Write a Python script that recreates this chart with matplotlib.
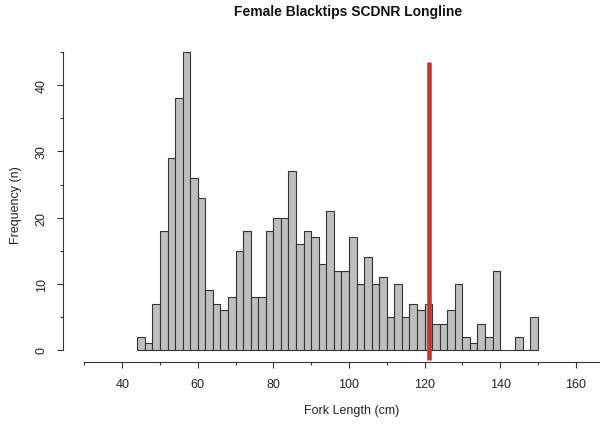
import numpy as np
import matplotlib
matplotlib.use("Agg")
import matplotlib.pyplot as plt

plt.rcParams['font.family'] = ['Liberation Sans', 'DejaVu Sans']

# histogram counts, 2 cm bins starting at 44 cm
bin_start = 44
bin_width = 2
counts = [2, 1, 7, 18, 29, 38, 45, 26, 23, 9,
          7, 6, 8, 15, 18, 8, 8, 18, 20, 20,
          27, 16, 18, 17, 13, 21, 12, 12, 17, 10,
          14, 10, 11, 5, 10, 5, 7, 6, 7, 4,
          4, 6, 10, 2, 1, 4, 2, 12, 0, 0,
          2, 0, 5]
marker_length = 121.3
x_major = [40, 60, 80, 100, 120, 140, 160]
x_minor = [30, 50, 70, 90, 110, 130, 150, 170]
y_major = [0, 10, 20, 30, 40]
y_minor = [5, 15, 25, 35, 45]

edges = bin_start + bin_width * np.arange(len(counts))

fig = plt.figure(figsize=(6, 4.27), dpi=100)
W, H = 600, 427
left, right, bottom, top = 63.3, 634.6, 363.3, 41.2
ax = fig.add_axes([left / W, 1 - bottom / H, (right - left) / W, (bottom - top) / H])
ax.set_clip_on(False)

ax.bar(edges, counts, width=bin_width, align='edge', color='#bebebe',
       edgecolor='#333333', linewidth=0.8)

# vertical marker line
ax.plot([marker_length, marker_length], [-1.5, 43.5], color='#c0392b',
        linewidth=3.3, solid_capstyle='butt')

ax.set_xlim(24.4, 175.6)
ax.set_ylim(-1.86, 46.8)

for s in ['top', 'right']:
    ax.spines[s].set_visible(False)
ax.spines['left'].set_bounds(0, 45)
ax.spines['bottom'].set_bounds(30, 170)
for s in ['left', 'bottom']:
    ax.spines[s].set_color('#333333')
    ax.spines[s].set_linewidth(0.8)

ax.set_xticks(x_major)
ax.set_xticks(x_minor, minor=True)
ax.set_yticks(y_major)
ax.set_yticks(y_minor, minor=True)
ax.set_yticklabels([str(v) for v in y_major], rotation=90, va='center')
ax.tick_params(which='major', direction='out', length=4.3, width=0.8,
               color='#333333', labelsize=9, labelcolor='#222222', pad=7)
ax.tick_params(which='minor', direction='out', length=2.5, width=0.8,
               color='#333333')

fig.text(348 / W, 1 - 12 / H, "Female Blacktips SCDNR Longline",
         ha='center', va='center', fontsize=10, fontweight='bold', color='#111111')
fig.text(352 / W, 1 - 411.5 / H, "Fork Length (cm)", ha='center', va='center',
         fontsize=9, color='#222222')
fig.text(16 / W, 1 - 205 / H, "Frequency (n)", ha='center', va='center',
         rotation=90, fontsize=9, color='#222222')

fig.savefig("out.png", dpi=100)
